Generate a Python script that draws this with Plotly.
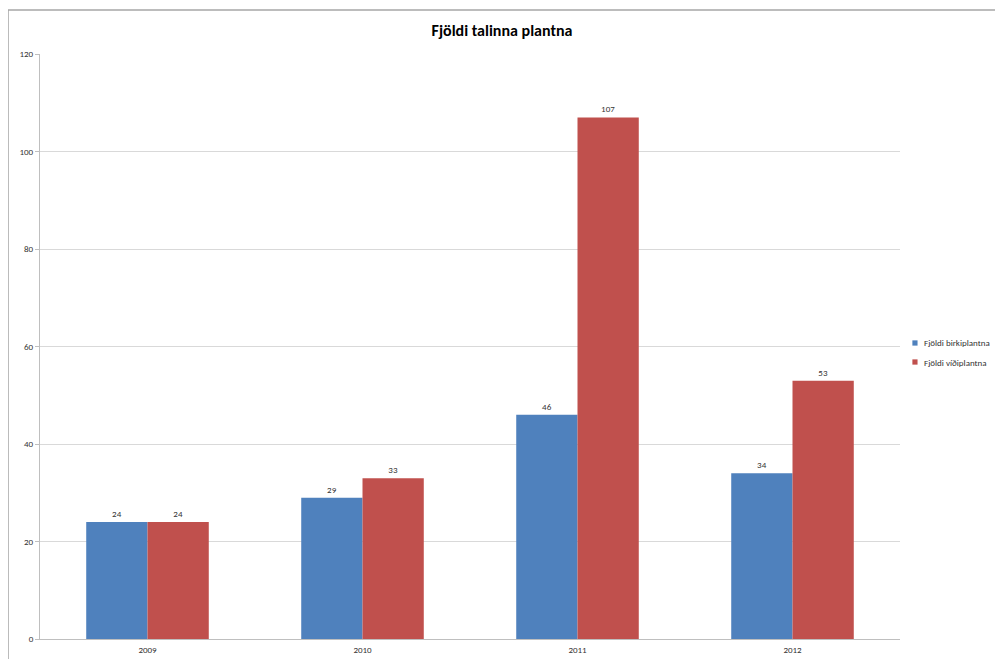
import plotly.graph_objects as go

years = ["2009", "2010", "2011", "2012"]
birki = [24, 29, 46, 34]
vidi = [24, 33, 107, 53]
y_ticks = [0, 20, 40, 60, 80, 100, 120]
names = ["Fjöldi birkiplantna", "Fjöldi víðiplantna"]
colors = ["#4F81BD", "#C0504D"]

FONT = "Carlito, Liberation Sans Narrow, Lato, sans-serif"

fig = go.Figure()
for vals, name, col in zip([birki, vidi], names, colors):
    fig.add_trace(go.Bar(x=years, y=vals, name=name, showlegend=False,
                         marker=dict(color=col, line=dict(width=0)),
                         text=vals, textposition="outside",
                         textfont=dict(size=9, color="#333333"), cliponaxis=False))

# legend drawn manually (small squares + labels), right of plot area
shapes = [dict(type="rect", xref="paper", yref="paper", x0=-0.0372, x1=1.3, y0=-0.2, y1=1.0752,
               line=dict(color="#A6A6A6", width=1.5), layer="below")]
annotations = []
leg_y = [0.506, 0.4735]
for name, col, yy in zip(names, colors, leg_y):
    shapes.append(dict(type="rect", xref="paper", yref="paper",
                       x0=1.0174 - 0.003, x1=1.0174 + 0.003, y0=yy - 0.0045, y1=yy + 0.0045,
                       fillcolor=col, line=dict(width=0)))
    annotations.append(dict(xref="paper", yref="paper", x=1.0256, y=yy, xanchor="left",
                            yanchor="middle", text=name, showarrow=False,
                            font=dict(size=9, color="#333333")))

fig.update_layout(
    width=995, height=651,
    margin=dict(l=32, r=103, t=46, b=20, autoexpand=False),
    paper_bgcolor="white", plot_bgcolor="white",
    font=dict(family=FONT, size=9, color="#333333"),
    title=dict(text="<b>Fjöldi talinna plantna</b>", x=0.4965, xref="container", xanchor="center",
               y=0.965, yanchor="middle", font=dict(size=16, color="#000000", family=FONT)),
    barmode="group", bargap=0.43, bargroupgap=0,
    showlegend=False,
    xaxis=dict(showline=True, linecolor="#BFBFBF", linewidth=1, ticks="", tickfont=dict(size=9),
               ticklabelstandoff=2),
    yaxis=dict(range=[0, 120], tickvals=y_ticks, showgrid=True, gridcolor="#D9D9D9",
               showline=True, linecolor="#BFBFBF", linewidth=1, ticks="outside", ticklen=4,
               tickcolor="#BFBFBF", tickfont=dict(size=9), zeroline=False),
    shapes=shapes,
    annotations=annotations,
)

fig.write_html("out.html")
